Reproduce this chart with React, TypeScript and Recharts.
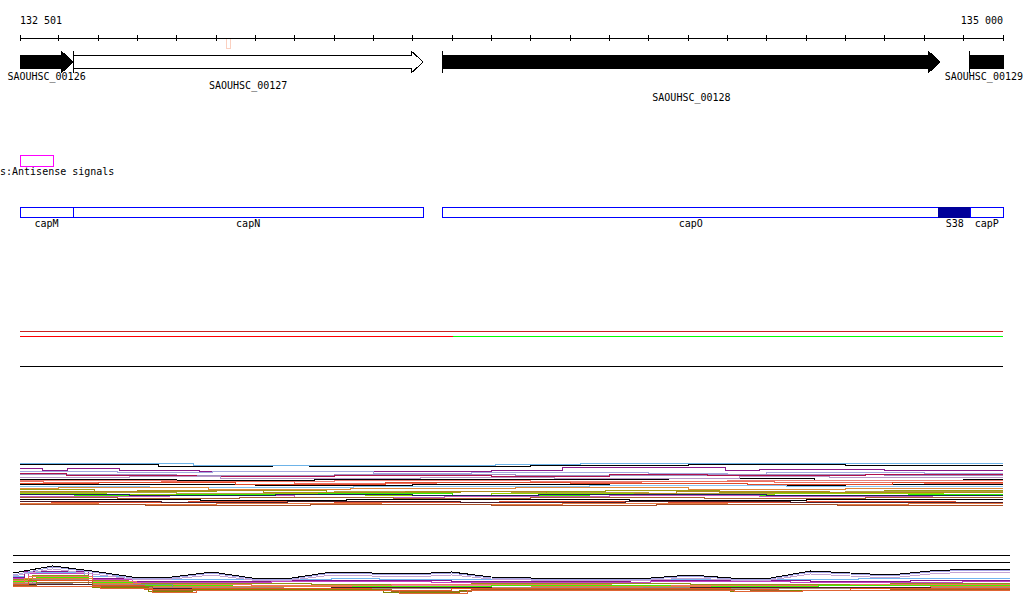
import React from "react";
import { ComposedChart, LineChart, Line, XAxis, YAxis, ReferenceArea, ReferenceLine } from "recharts";

const WINDOW_START = 132501;
const WINDOW_END = 135000;

const FONT = "'DejaVu Sans Mono', 'Liberation Mono', monospace";
const W = 1024;
const SIDE = { left: 20, right: 21 };
const CHAR_W = 6.02;

// ruler ticks every 100 bp
const rulerTicks = [
  132501, 132600, 132700, 132800, 132900, 133000, 133100, 133200, 133300, 133400, 133500, 133600, 133700,
  133800, 133900, 134000, 134100, 134200, 134300, 134400, 134500, 134600, 134700, 134800, 134900, 135000,
];

// small probe hit just under the ruler
const probeHits = [{ start: 133025, end: 133037 }];

const genes = [
  { locus: "SAOUHSC_00126", start: 131980, end: 132636 },
  { locus: "SAOUHSC_00127", start: 132636, end: 133526 },
  { locus: "SAOUHSC_00128", start: 133576, end: 134840 },
  { locus: "SAOUHSC_00129", start: 134916, end: 135580 },
];

const features = [
  { name: "capM", start: 131980, end: 132636, kind: "cds" },
  { name: "capN", start: 132636, end: 133526, kind: "cds" },
  { name: "capO", start: 133576, end: 134837, kind: "cds" },
  { name: "S38", start: 134837, end: 134918, kind: "srna" },
  { name: "capP", start: 134918, end: 135580, kind: "cds" },
];

// strand track
const strandBreaks = [132501, 133602, 135000];
const plusStrand = [34, 34, null];
const minusStrand = [null, 34, 34];

type Steps = [number, number][];

// upper expression panel: [position, level] step points per condition
const upperSeries: [string, Steps][] = [
  ["u01", [[132501, 43], [132941, 41], [133709, 42], [133925, 43], [135000, 43]]],
  ["u02", [[132501, 42], [132852, 40], [133142, 41], [133236, 40], [133800, 41], [134200, 42], [134600, 41], [135000, 41]]],
  ["u03", [[132501, 38], [132557, 36], [132623, 38], [132755, 36], [132958, 35], [133700, 36], [133880, 39], [134295, 36], [134380, 37], [134700, 36], [135000, 36]]],
  ["u04", [[132501, 35], [132750, 34], [132990, 35], [133400, 33], [133650, 34], [134100, 33], [134300, 31], [134400, 34], [134800, 33], [135000, 33]]],
  ["u26", [[132501, 32], [132900, 31], [133300, 32], [133760, 31], [134250, 32], [134700, 31], [135000, 31]]],
  ["u05", [[132501, 33], [132620, 31], [132950, 30], [133300, 31], [133700, 30], [134000, 32], [134250, 31], [134650, 32], [135000, 32]]],
  ["u06", [[132501, 29], [132780, 30], [133010, 28], [133520, 29], [133860, 28], [134330, 30], [134560, 29], [135000, 29]]],
  ["u07", [[132501, 27], [132900, 26], [133250, 27], [134150, 28], [134520, 26], [134900, 27], [135000, 27]]],
  ["u25", [[132501, 26], [132900, 25], [133300, 26], [133800, 25], [134300, 26], [135000, 26]]],
  ["u08", [[132501, 25], [132560, 24], [132860, 25], [133200, 23], [133560, 24], [134080, 25], [134420, 24], [134800, 23], [135000, 23]]],
  ["u09", [[132501, 23], [132700, 24], [133050, 22], [133430, 24], [133900, 23], [134350, 22], [134720, 24], [135000, 24]]],
  ["u10", [[132501, 22], [133100, 21], [133500, 22], [134000, 21], [134600, 22], [135000, 22]]],
  ["u11", [[132501, 20], [132830, 19], [133350, 20], [133950, 21], [134450, 20], [135000, 20]]],
  ["u12", [[132501, 18], [132600, 19], [132980, 17], [133340, 18], [133760, 19], [134200, 17], [134600, 18], [135000, 18]]],
  ["u13", [[132501, 17], [132690, 15], [133000, 16], [133280, 14], [133620, 15], [133990, 16], [134280, 14], [134700, 16], [135000, 16]]],
  ["u27", [[132501, 14], [132900, 13], [133300, 15], [133750, 14], [134100, 13], [134600, 15], [135000, 15]]],
  ["u14", [[132501, 15], [132800, 16], [133120, 14], [133480, 15], [133840, 13], [134170, 15], [134560, 14], [135000, 14]]],
  ["u15", [[132501, 13], [132720, 12], [133150, 13], [133380, 11], [133700, 13], [134060, 12], [134420, 13], [134850, 12], [135000, 12]]],
  ["u16", [[132501, 12], [132640, 11], [132900, 12], [133260, 13], [133600, 11], [133950, 12], [134330, 11], [134760, 12], [135000, 12]]],
  ["u17", [[132501, 10], [132880, 11], [133200, 9], [133580, 10], [134000, 11], [134380, 10], [134820, 9], [135000, 9]]],
  ["u18", [[132501, 12], [132780, 11], [133150, 12], [133500, 11], [133820, 12], [134400, 11], [135000, 11]]],
  ["u19", [[132501, 9], [132750, 8], [133060, 9], [133450, 8], [133800, 9], [134240, 8], [134650, 9], [135000, 9]]],
  ["u20", [[132501, 7], [132960, 6], [133330, 7], [134050, 6], [134500, 7], [135000, 7]]],
  ["u21", [[132501, 5], [132580, 4], [132930, 5], [133300, 4], [133720, 5], [134150, 4], [134500, 5], [134880, 4], [135000, 4]]],
  ["u22", [[132501, 5], [132860, 4], [133180, 5], [133620, 4], [134040, 5], [134460, 4], [135000, 4]]],
  ["u23", [[132501, 3], [132700, 2], [133000, 3], [133420, 2], [133880, 3], [134300, 2], [134760, 3], [135000, 3]]],
  ["u24", [[132501, 2], [132820, 1], [133240, 2], [133700, 1], [134120, 2], [134580, 1], [135000, 1]]],
];

// lower panel: smooth outer profiles sampled on the 100 bp ticks
const profileSeries: [string, number[]][] = [
  ["p1", [24, 31, 26, 21, 21, 25, 20, 20, 25, 24, 23, 25, 21, 20, 20, 20, 20, 22, 20, 20, 26, 24, 22, 26, 28, 28]],
  ["p2", [25, 33, 28, 22, 22, 27, 21, 21, 27, 26, 25, 27, 22, 21, 21, 21, 21, 24, 21, 21, 28, 26, 24, 28, 30, 30]],
  ["p3", [27, 34, 29, 23, 23, 28, 22, 22, 28, 27, 26, 28, 23, 22, 22, 22, 22, 25, 22, 22, 29, 27, 25, 29, 31, 31]],
];

const bandSeries: [string, Steps][] = [
  ["b01", [[132501, 24], [132530, 28], [132680, 24], [132780, 21], [133300, 22], [133420, 21], [133860, 22], [134000, 21], [134620, 22], [135000, 22]]],
  ["b02", [[132501, 23], [132530, 29], [132690, 22], [132790, 19], [133200, 20], [133600, 19], [134050, 20], [134500, 19], [134750, 20], [135000, 20]]],
  ["b03", [[132501, 22], [132540, 27], [132700, 21], [132800, 18], [133150, 19], [133550, 18], [134100, 19], [134450, 18], [134880, 19], [135000, 19]]],
  ["b14", [[132501, 18], [132700, 15], [132900, 14], [133350, 15], [133900, 14], [134400, 15], [135000, 15]]],
  ["b04", [[132501, 21], [132550, 25], [132690, 20], [132790, 17], [133250, 16], [133650, 17], [134200, 16], [134700, 17], [135000, 17]]],
  ["b05", [[132501, 20], [132540, 24], [132700, 19], [132810, 16], [133100, 15], [133450, 16], [134000, 15], [134600, 16], [135000, 16]]],
  ["b06", [[132501, 19], [132560, 23], [132690, 18], [132800, 15], [133050, 14], [133700, 15], [134150, 14], [134520, 15], [135000, 15]]],
  ["b07", [[132501, 18], [132530, 22], [132700, 17], [132820, 14], [133350, 13], [133800, 14], [134250, 13], [134800, 14], [135000, 14]]],
  ["b15", [[132501, 17], [132650, 16], [132900, 12], [133500, 12], [133800, 13], [134500, 13], [135000, 13]]],
  ["b08", [[132501, 17], [132550, 21], [132690, 16], [132800, 13], [133180, 12], [133520, 13], [134080, 12], [134680, 13], [135000, 13]]],
  ["b13", [[132501, 16], [132700, 14], [132830, 12], [133300, 13], [133700, 12], [134200, 13], [134800, 12], [135000, 12]]],
  ["b09", [[132501, 16], [132540, 20], [132700, 15], [132830, 11], [132950, 12], [133400, 10], [133600, 12], [134300, 11], [134420, 10], [134600, 12], [135000, 12]]],
  ["b10", [[132501, 15], [132560, 18], [132700, 14], [132850, 10], [132960, 11], [133450, 9], [133650, 11], [134350, 10], [134700, 11], [135000, 11]]],
  ["b11", [[132501, 14], [132700, 13], [132840, 9], [132950, 11], [133430, 8], [133620, 10], [134300, 9], [134450, 10], [135000, 10]]],
  ["b12", [[132501, 14], [132720, 12], [132850, 8], [132960, 10], [133470, 7], [133640, 10], [134310, 9], [134480, 10], [135000, 10]]],
];

const SERIES_COLORS: Record<string, string> = {
  u01: "#6db3e8", u02: "#000000", u03: "#8a1a8a", u04: "#a4a8e0", u05: "#b0104e", u06: "#b898c8",
  u07: "#000000", u08: "#f07060", u09: "#e04a28", u10: "#000000", u11: "#88c4f0", u12: "#e08838",
  u13: "#9c9c14", u14: "#b08a20", u15: "#94d400", u16: "#38f000", u17: "#c858c0", u18: "#182858",
  u19: "#a86030", u20: "#000000", u21: "#e05030", u22: "#501c28", u23: "#e87840", u24: "#a85028",
  u25: "#e88078", u26: "#a090c0", u27: "#b4a040",
  p1: "#c4a4d4", p2: "#a8a8e8", p3: "#000000",
  b01: "#72b6f0", b02: "#86168a", b03: "#c444c4", b04: "#949414", b05: "#f07462", b06: "#44f000",
  b07: "#e48434", b08: "#a88878", b09: "#e45424", b10: "#a46424", b11: "#848400", b12: "#e06434",
  b13: "#48202c", b14: "#f088a8", b15: "#8a8a8a",
};

const GENE_STYLE: Record<string, { fill: string; row: number }> = {
  SAOUHSC_00126: { fill: "#000", row: 0 },
  SAOUHSC_00127: { fill: "#fff", row: 1 },
  SAOUHSC_00128: { fill: "#000", row: 2 },
  SAOUHSC_00129: { fill: "#000", row: 0 },
};
const LABEL_OFFSETS = [29, 38, 50];

const fmtPos = (v: number) => String(v).replace(/\B(?=(\d{3})+(?!\d))/g, " ");

// merge step lists into one table; each series only has values at its own break points
function mergeSteps(series: [string, Steps][]) {
  const positions = Array.from(new Set(series.flatMap(([, pts]) => pts.map((p) => p[0])))).sort((a, b) => a - b);
  return positions.map((pos) => {
    const r: any = { pos };
    series.forEach(([k, pts]) => {
      const hit = pts.find((p) => p[0] === pos);
      r[k] = hit ? hit[1] : null;
    });
    return r;
  });
}

const upperRows = mergeSteps(upperSeries);
const lowerRows = mergeSteps([
  ...bandSeries,
  ...profileSeries.map(([k, vals]) => [k, rulerTicks.map((pos, i) => [pos, vals[i]])] as [string, Steps]),
]);
// draw black lines first so the coloured ones stay visible
const upperOrder = [...upperSeries].sort((a, b) => Number(SERIES_COLORS[b[0]] === "#000000") - Number(SERIES_COLORS[a[0]] === "#000000"));

const strandRows = strandBreaks.map((pos, i) => ({ pos, plus: plusStrand[i], minus: minusStrand[i] }));
const windowRows = [
  { pos: WINDOW_START, lane: 0 },
  { pos: WINDOW_END, lane: 1 },
];

function RulerTick(props: any) {
  const { x, y, payload } = props;
  const v = payload.value;
  let anchor: string | null = null;
  if (v === WINDOW_START) anchor = "start";
  if (v === WINDOW_END) anchor = "end";
  return (
    <g>
      <line x1={x} x2={x} y1={y - 3} y2={y + 3} stroke="#000" />
      {anchor && (
        <text x={x} y={y - 14} textAnchor={anchor as any} fontFamily={FONT} fontSize={10} fill="#000">
          {fmtPos(v)}
        </text>
      )}
    </g>
  );
}

function GeneArrow({ x, y, width, height, gene, openStart, openEnd }: any) {
  const st = GENE_STYLE[gene.locus];
  const x0 = x;
  const x1 = x + width;
  const xh = x1 - 12;
  const bTop = y + 4;
  const bBot = y + 17;
  const mid = y + 11;
  const pts = openEnd
    ? `${x0},${bTop} ${x1},${bTop} ${x1},${bBot} ${x0},${bBot}`
    : `${x0},${bTop} ${xh},${bTop} ${xh},${y} ${x1},${mid} ${xh},${y + height} ${xh},${bBot} ${x0},${bBot}`;
  const half = (gene.locus.length * CHAR_W) / 2;
  const lx = Math.min(Math.max((x0 + x1) / 2, half + 1), W - half - 1);
  return (
    <g>
      <polygon points={pts} fill={st.fill} stroke="#000" strokeWidth={1} />
      {!openStart && <line x1={x0} x2={x0} y1={y} y2={y + height} stroke="#000" />}
      <text x={lx} y={y + LABEL_OFFSETS[st.row]} textAnchor="middle" fontFamily={FONT} fontSize={10} fill="#000">
        {gene.locus}
      </text>
    </g>
  );
}

function FeatureBox({ x, y, width, height, feature }: any) {
  const filled = feature.kind === "srna";
  return (
    <g>
      <rect x={x} y={y} width={width} height={height} fill={filled ? "#000099" : "#fff"} stroke={filled ? "#000099" : "#0000ff"} />
      <text x={x + width / 2} y={y + height + 10} textAnchor="middle" fontFamily={FONT} fontSize={10} fill="#000">
        {feature.name}
      </text>
    </g>
  );
}

const xAxisHidden = <XAxis dataKey="pos" type="number" domain={[WINDOW_START, WINDOW_END]} hide />;
// keeps the lane axis populated so reference areas get a y scale
const laneLine = <Line dataKey="lane" stroke="none" dot={false} activeDot={false} isAnimationActive={false} />;

export default function App() {
  return (
    <div style={{ position: "absolute", left: 0, top: 0, width: W, height: 611, background: "#fff", overflow: "hidden" }}>
      <style>{"svg { shape-rendering: crispEdges; }"}</style>

      {/* ruler */}
      <div style={{ position: "absolute", top: 0, left: 0 }}>
        <LineChart width={W} height={50} data={windowRows} margin={{ top: 37, bottom: 2, ...SIDE }}>
          <XAxis
            dataKey="pos"
            type="number"
            domain={[WINDOW_START, WINDOW_END]}
            ticks={rulerTicks}
            interval={0}
            orientation="top"
            height={1}
            tickSize={0}
            tickMargin={0}
            tickLine={false}
            axisLine={{ stroke: "#000" }}
            tick={<RulerTick />}
          />
          <YAxis hide domain={[0, 1]} />
          {laneLine}
          {probeHits.map((p) => (
            <ReferenceArea key={p.start} x1={p.start} x2={p.end} y1={0} y2={1} fill="none" stroke="#fbd0c0" fillOpacity={0} ifOverflow="visible" />
          ))}
        </LineChart>
      </div>

      {/* genes */}
      <div style={{ position: "absolute", top: 40, left: 0 }}>
        <ComposedChart width={W} height={70} data={windowRows} margin={{ top: 11, bottom: 37, ...SIDE }}>
          {xAxisHidden}
          <YAxis hide domain={[0, 1]} />
          {laneLine}
          {genes.map((g) => (
            <ReferenceArea
              key={g.locus}
              x1={Math.max(g.start, WINDOW_START)}
              x2={Math.min(g.end, WINDOW_END)}
              y1={0}
              y2={1}
              ifOverflow="visible"
              shape={(p: any) => <GeneArrow {...p} gene={g} openStart={g.start < WINDOW_START} openEnd={g.end > WINDOW_END} />}
            />
          ))}
        </ComposedChart>
      </div>

      {/* legend */}
      <svg width={W} height={30} style={{ position: "absolute", top: 150, left: 0 }}>
        <rect x={20} y={5} width={33} height={11} fill="none" stroke="#ff00ff" />
        <text x={0} y={25} textAnchor="start" fontFamily={FONT} fontSize={10} fill="#000">
          s:Antisense signals
        </text>
      </svg>

      {/* annotated features */}
      <div style={{ position: "absolute", top: 195, left: 0 }}>
        <ComposedChart width={W} height={40} data={windowRows} margin={{ top: 12, bottom: 18, ...SIDE }}>
          {xAxisHidden}
          <YAxis hide domain={[0, 1]} />
          {laneLine}
          {features.map((f) => (
            <ReferenceArea
              key={f.name}
              x1={Math.max(f.start, WINDOW_START)}
              x2={Math.min(f.end, WINDOW_END)}
              y1={0}
              y2={1}
              ifOverflow="visible"
              shape={(p: any) => <FeatureBox {...p} feature={f} />}
            />
          ))}
        </ComposedChart>
      </div>

      {/* strand track */}
      <div style={{ position: "absolute", top: 320, left: 0 }}>
        <LineChart width={W} height={60} data={strandRows} margin={{ top: 6, bottom: 10, ...SIDE }}>
          {xAxisHidden}
          <YAxis hide domain={[0, 44]} />
          <ReferenceLine y={39} stroke="#cc2020" />
          <ReferenceLine y={4} stroke="#000" />
          <Line dataKey="plus" stroke="#ff0000" dot={false} activeDot={false} isAnimationActive={false} />
          <Line dataKey="minus" stroke="#00ff00" dot={false} activeDot={false} isAnimationActive={false} />
        </LineChart>
      </div>

      {/* upper signal panel */}
      <div style={{ position: "absolute", top: 455, left: 0 }}>
        <LineChart width={W} height={55} data={upperRows} margin={{ top: 5, bottom: 4, ...SIDE }}>
          {xAxisHidden}
          <YAxis hide domain={[0, 46]} />
          {upperOrder.map(([k]) => (
            <Line key={k} dataKey={k} type="stepAfter" connectNulls stroke={SERIES_COLORS[k]} strokeWidth={1} dot={false} activeDot={false} isAnimationActive={false} />
          ))}
        </LineChart>
      </div>

      {/* lower signal panel */}
      <div style={{ position: "absolute", top: 545, left: 0 }}>
        <LineChart width={W} height={60} data={lowerRows} margin={{ top: 5, bottom: 5, left: 13, right: 14 }}>
          {xAxisHidden}
          <YAxis hide domain={[0, 50]} />
          <ReferenceLine y={45} stroke="#000" />
          <ReferenceLine y={38} stroke="#000" />
          {bandSeries.map(([k]) => (
            <Line key={k} dataKey={k} type="stepAfter" connectNulls stroke={SERIES_COLORS[k]} strokeWidth={1} dot={false} activeDot={false} isAnimationActive={false} />
          ))}
          {profileSeries.map(([k]) => (
            <Line key={k} dataKey={k} type="linear" connectNulls stroke={SERIES_COLORS[k]} strokeWidth={1} dot={false} activeDot={false} isAnimationActive={false} />
          ))}
        </LineChart>
      </div>
    </div>
  );
}
